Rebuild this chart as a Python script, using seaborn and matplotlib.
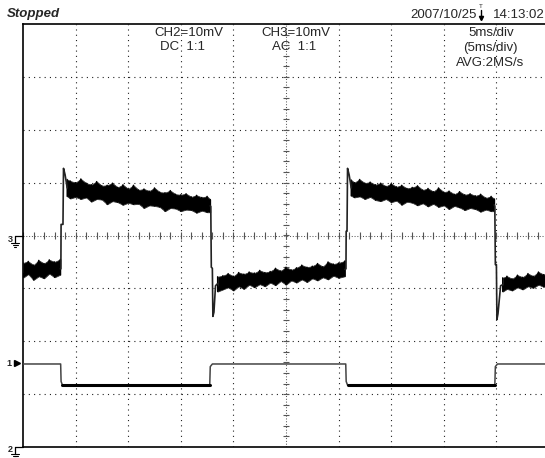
import matplotlib
matplotlib.use("Agg")
import matplotlib.pyplot as plt
import seaborn as sns
import numpy as np
from matplotlib.lines import Line2D

# ---- CH3 (AC, 10 mV/div), time in ms, values in mV ----
# noisy plateaus given as upper / lower envelope of the trace
ch3_a_t = [0.0, 0.5, 1.0, 1.5, 2.0, 2.5, 3.0, 3.55]
ch3_a_hi = [-5.2, -4.9, -5.6, -4.7, -5.3, -4.6, -5.0, -4.5]
ch3_a_lo = [-8.0, -7.3, -8.4, -7.7, -8.1, -7.2, -7.9, -7.4]

ch3_b_t = [4.2, 4.5, 5.0, 5.5, 6.0, 6.5, 7.0, 7.5, 8.0, 8.5, 9.0, 9.5, 10.0, 10.5, 11.0,
           11.5, 12.0, 12.5, 13.0, 13.5, 14.0, 14.5, 15.0, 15.5, 16.0, 16.5, 17.0, 17.5, 17.8]
ch3_b_hi = [10.6, 10.3, 10.0, 10.7, 9.9, 9.6, 10.2, 9.4, 9.5, 9.9, 9.1, 9.6, 8.8, 9.5, 8.6,
            8.8, 8.4, 9.0, 8.2, 8.1, 8.5, 7.8, 7.7, 7.9, 7.3, 7.6, 7.2, 7.4, 6.8]
ch3_b_lo = [7.4, 7.0, 7.3, 6.9, 7.2, 6.4, 6.9, 6.8, 5.9, 6.5, 6.3, 5.8, 6.2, 5.9, 6.0,
            5.2, 5.7, 5.6, 5.4, 4.6, 5.2, 5.1, 4.6, 4.9, 4.8, 4.3, 4.7, 4.4, 4.4]

ch3_c_t = [18.5, 19.0, 19.5, 20.0, 20.5, 21.0, 21.5, 22.0, 22.5, 23.0, 23.5, 24.0, 24.5,
           25.0, 25.5, 26.0, 26.5, 27.0, 27.5, 28.0, 28.5, 29.0, 29.5, 30.0, 30.6]
ch3_c_hi = [-7.8, -7.6, -7.2, -7.7, -7.0, -7.3, -6.9, -7.1, -6.6, -7.0, -6.8, -6.2, -6.7,
            -6.0, -6.5, -6.1, -5.6, -6.0, -5.8, -5.3, -5.9, -5.0, -5.4, -5.2, -4.8]
ch3_c_lo = [-10.6, -10.2, -9.8, -10.4, -9.6, -10.1, -9.3, -9.8, -9.2, -9.6, -8.9, -9.4, -8.6,
            -9.3, -8.5, -8.9, -8.3, -8.8, -8.1, -8.5, -7.9, -8.3, -7.6, -8.0, -7.7]

ch3_d_t = [31.2, 31.5, 32.0, 32.5, 33.0, 33.5, 34.0, 34.5, 35.0, 35.5, 36.0, 36.5, 37.0, 37.5,
           38.0, 38.5, 39.0, 39.5, 40.0, 40.5, 41.0, 41.5, 42.0, 42.5, 43.0, 43.5, 44.0, 44.5, 44.8]
ch3_d_hi = [10.5, 10.0, 10.6, 9.9, 10.1, 9.6, 9.9, 9.3, 9.8, 9.2, 9.5, 8.9, 9.1, 9.4,
            8.6, 8.9, 8.3, 9.0, 8.2, 8.4, 7.8, 8.3, 7.7, 7.9, 7.5, 7.8, 7.1, 7.4, 6.9]
ch3_d_lo = [7.5, 7.2, 7.4, 6.9, 7.3, 6.7, 6.5, 6.9, 6.3, 6.6, 5.8, 6.4, 6.2, 5.7,
            6.1, 5.5, 6.0, 5.4, 5.7, 5.0, 5.6, 5.3, 4.8, 5.2, 5.0, 4.5, 4.9, 4.6, 4.6]

ch3_e_t = [45.6, 46.0, 46.5, 47.0, 47.5, 48.0, 48.5, 49.0, 49.5, 50.0]
ch3_e_hi = [-8.0, -7.7, -8.2, -7.5, -7.9, -7.2, -7.7, -6.9, -7.4, -6.8]
ch3_e_lo = [-10.6, -10.1, -10.4, -9.8, -10.2, -9.6, -9.9, -9.3, -9.7, -9.2]

# edges (rise with overshoot, fall with undershoot)
ch3_edge_t = [
    [3.55, 3.6, 3.62, 3.8, 3.85, 4.0, 4.2],
    [17.8, 17.85, 17.9, 18.0, 18.05, 18.15, 18.3, 18.5],
    [30.6, 30.7, 30.72, 30.8, 30.85, 31.0, 31.2],
    [44.8, 44.85, 44.9, 45.0, 45.05, 45.15, 45.4, 45.6],
]
ch3_edge_v = [
    [-6.3, -6.3, 2.1, 2.1, 12.7, 11.5, 9.0],
    [5.6, 5.5, -6.0, -6.2, -15.3, -14.5, -9.5, -9.1],
    [-6.4, -6.3, 0.8, 0.8, 12.7, 11.5, 9.0],
    [5.8, 5.5, -5.5, -5.5, -15.9, -14.8, -9.5, -9.3],
]

# ---- CH2 (DC, 10 mV/div), ground at bottom of screen ----
ch2_t = [0.0, 3.58, 3.62, 3.75, 17.75, 17.8, 18.0, 30.68, 30.72, 30.85, 44.85, 44.9, 45.1, 50.0]
ch2_v = [15.7, 15.7, 12.4, 11.7, 11.7, 15.2, 15.7, 15.7, 12.4, 11.7, 11.7, 15.2, 15.7, 15.7]
ch2_low = 11.7

ms_per_div = 5
mv_per_div = 10
ch3_offset = 0.0   # divisions
ch2_offset = -4.0

W, H = 545, 458


def fx(px):
    return px / W


def fy(py):
    return 1 - py / H


sns.set_style("white")
plt.rcParams["font.family"] = ["Liberation Sans", "DejaVu Sans"]
plt.rcParams["lines.scale_dashes"] = False

fig = plt.figure(figsize=(W / 100, H / 100), dpi=100)
ax = fig.add_axes([fx(23), fy(447), (549 - 23) / W, (447 - 24) / H])
ax.set_xlim(0, 50)
ax.set_ylim(-4, 4)
ax.set_xticks([])
ax.set_yticks([])
for side in ["left", "top", "bottom", "right"]:
    ax.spines[side].set_color("black")
    ax.spines[side].set_linewidth(1.2)

# graticule
dot = (0, (0.8, 3.0))
for k in range(1, 10):
    if k != 5:
        ax.axvline(k * ms_per_div, color="#222222", lw=0.8, ls=dot, zorder=1)
for k in [-3, -2, -1, 1, 2, 3]:
    ax.axhline(k, color="#222222", lw=0.8, ls=dot, zorder=1)
ax.axhline(0, color="#555555", lw=0.75, ls=(0, (0.72, 1.3)), zorder=1)
ax.axvline(25, color="#555555", lw=0.75, ls=(0, (0.72, 1.3)), zorder=1)
ticks_x = np.arange(0, 50.01, 1.0)
ax.vlines(ticks_x, -0.06, 0.06, color="#555555", lw=0.8, zorder=1)
ticks_y = np.arange(-4, 4.01, 0.2)
ax.hlines(ticks_y, 25 - 0.28, 25 + 0.28, color="#555555", lw=0.8, zorder=1)

# CH3 trace: filled envelope plus a zig-zag through the envelope points
segments = [
    (ch3_a_t, ch3_a_hi, ch3_a_lo),
    (ch3_b_t, ch3_b_hi, ch3_b_lo),
    (ch3_c_t, ch3_c_hi, ch3_c_lo),
    (ch3_d_t, ch3_d_hi, ch3_d_lo),
    (ch3_e_t, ch3_e_hi, ch3_e_lo),
]
for t, hi, lo in segments:
    hi_d = np.array(hi) / mv_per_div + ch3_offset
    lo_d = np.array(lo) / mv_per_div + ch3_offset
    ax.fill_between(t, lo_d, hi_d, color="black", edgecolor="#333333", lw=0.6, zorder=3)
    zx, zy = [], []
    for i in range(len(t)):
        zx += [t[i], t[i]]
        zy += [hi_d[i], lo_d[i]]
    sns.lineplot(x=zx, y=zy, estimator=None, sort=False, color="black", lw=1.0, ax=ax, zorder=3)

for t, v in zip(ch3_edge_t, ch3_edge_v):
    sns.lineplot(x=t, y=np.array(v) / mv_per_div + ch3_offset, estimator=None, sort=False,
                 color="#222222", lw=1.2, ax=ax, zorder=3)

# CH2 trace: thin at high level, bold at low level
ch2_d = np.array(ch2_v) / mv_per_div + ch2_offset
sns.lineplot(x=ch2_t, y=ch2_d, estimator=None, sort=False, color="#444444", lw=1.1, ax=ax, zorder=3)
low_idx = [i for i, v in enumerate(ch2_v) if v == ch2_low]
for i in range(0, len(low_idx), 2):
    a, b = low_idx[i], low_idx[i + 1]
    sns.lineplot(x=[ch2_t[a], ch2_t[b]], y=[ch2_d[a], ch2_d[b]], estimator=None, sort=False,
                 color="black", lw=2.2, ax=ax, zorder=4)

# header texts
fs = 9.5
fig.text(fx(7), fy(14), "Stopped", fontsize=9.5, fontweight="bold", fontstyle="italic", va="center", ha="left")
fig.text(fx(477), fy(15), "2007/10/25", fontsize=fs, va="center", ha="right")
fig.text(fx(545), fy(15), "14:13:02", fontsize=fs, va="center", ha="right")
fig.text(fx(481), fy(7), "T", fontsize=4.5, va="center", ha="center")
fig.add_artist(Line2D([fx(481), fx(481)], [fy(10), fy(19)], color="black", lw=1))
fig.add_artist(Line2D([fx(481)], [fy(18)], marker="v", ms=3, color="black"))

fig.text(fx(189), fy(33), "CH2=10mV", fontsize=fs, va="center", ha="center")
fig.text(fx(183), fy(47), "DC  1:1", fontsize=fs, va="center", ha="center")
fig.text(fx(296), fy(33), "CH3=10mV", fontsize=fs, va="center", ha="center")
fig.text(fx(294), fy(47), "AC  1:1", fontsize=fs, va="center", ha="center")
fig.text(fx(491), fy(33), "5ms/div", fontsize=fs, va="center", ha="center")
fig.text(fx(490), fy(48), "(5ms/div)", fontsize=fs, va="center", ha="center")
fig.text(fx(490), fy(63), "AVG:2MS/s", fontsize=fs, va="center", ha="center")


# channel markers at the left edge
def ground(x0, y0, label):
    fig.text(fx(x0 - 5), fy(y0 + 3), label, fontsize=6.5, fontweight="bold", va="center", ha="center")
    col = "black"
    fig.add_artist(Line2D([fx(x0), fx(x0 + 8)], [fy(y0), fy(y0)], color=col, lw=0.9))
    fig.add_artist(Line2D([fx(x0), fx(x0)], [fy(y0), fy(y0 + 7)], color=col, lw=0.9))
    for j, half in enumerate([4, 2.5, 1]):
        yy = y0 + 7 + 2 * j
        fig.add_artist(Line2D([fx(x0 - half), fx(x0 + half)], [fy(yy), fy(yy)], color=col, lw=0.8))


ground(15, 236, "3")
ground(15, 447, "2")
fig.text(fx(9), fy(364), "1", fontsize=6.5, fontweight="bold", va="center", ha="center")
fig.add_artist(Line2D([fx(17)], [fy(363)], marker=">", ms=5, color="black"))

fig.savefig("out.png", dpi=100)
